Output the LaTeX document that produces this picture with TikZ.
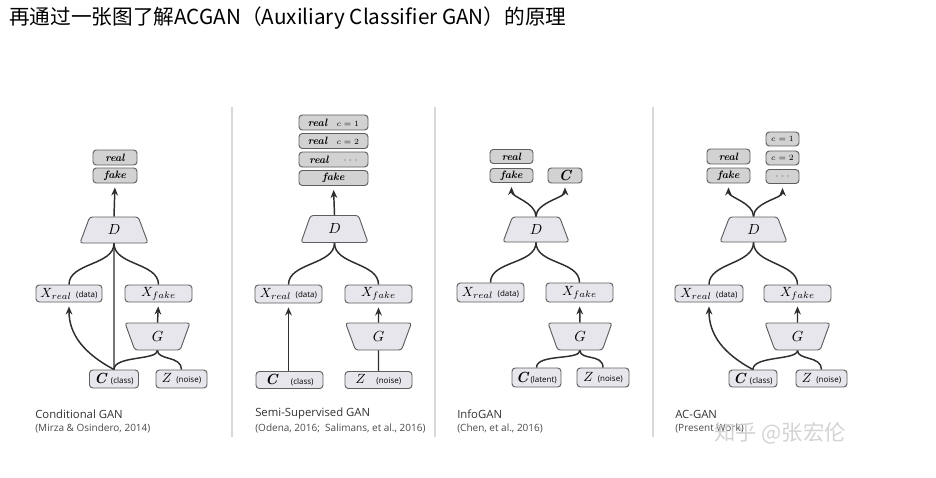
\documentclass[tikz,border=0pt]{standalone}
\usepackage{fontspec}
\usetikzlibrary{shapes.geometric,arrows.meta}
\setsansfont{Open Sans}
\newfontfamily\cjk{Noto Sans CJK SC}
\newcommand\dat[1]{{\sffamily\fontsize{6}{7}\selectfont #1}}
\newcommand\cbold{{\fontsize{11}{12}\selectfont\bfseries\itshape C}}
\newcommand\smc[1]{{\fontsize{6.5}{7}\selectfont$#1$}}
\newcommand\dotsy{{\color{dotc}\fontsize{9}{9}\selectfont$\cdots$}}
\definecolor{boxfill}{HTML}{D2D2D2}
\definecolor{boxline}{HTML}{5E5E5E}
\definecolor{netfill}{HTML}{E6E6EC}
\definecolor{linec}{HTML}{2E2E2E}
\definecolor{dotc}{HTML}{707070}
\begin{document}
\begin{tikzpicture}[x=0.75pt,y=-0.75pt,
  lab/.style 2 args={draw=boxline, fill=boxfill, rounded corners=2.5pt, line width=0.7pt, inner sep=0pt,
    minimum width=#1*0.75pt, minimum height=#2*0.75pt, font=\fontsize{8}{9}\selectfont\itshape\bfseries},
  xb/.style 2 args={draw=boxline, fill=netfill, rounded corners=2.5pt, line width=0.7pt, inner sep=0pt,
    minimum width=#1*0.75pt, minimum height=#2*0.75pt, font=\fontsize{10}{11}\selectfont},
  trap/.style 2 args={trapezium, trapezium angle=76, trapezium stretches=true, draw=boxline, fill=netfill,
    rounded corners=2pt, line width=0.7pt, inner sep=0pt,
    minimum width=#1*0.75pt, minimum height=#2*0.75pt, font=\fontsize{11}{12}\selectfont},
  gtrap/.style 2 args={trap={#1}{#2}, shape border rotate=180},
  con/.style={draw=linec, line width=1.1pt},
  arr/.style={con, -{Stealth[length=6pt,width=5pt]}, shorten >=3pt},
  captxt/.style={anchor=west, font=\sffamily\fontsize{8.5}{9}\selectfont, text=black!80, inner sep=0pt},
  subtxt/.style={anchor=west, font=\sffamily\fontsize{7.5}{8}\selectfont, text=black!70, inner sep=0pt},
  sepline/.style={draw=gray!30, line width=1.2pt}
]
\useasboundingbox (0,0) rectangle (936,478);
\fill[white] (0,0) rectangle (936,478);

% title
\node[anchor=west, inner sep=0pt, font=\cjk\fontsize{15.5}{17}\selectfont] (title) at (9,18)
  {再通过一张图了解ACGAN（Auxiliary Classifier GAN）的原理};

% separators
\coordinate (s1a) at (232,107); \coordinate (s1b) at (232,437);
\coordinate (s2a) at (435,107); \coordinate (s2b) at (435,437);
\coordinate (s3a) at (653,107); \coordinate (s3b) at (653,437);
\draw[sepline] (s1a) -- (s1b);
\draw[sepline] (s2a) -- (s2b);
\draw[sepline] (s3a) -- (s3b);

% ---------- Panel 1: Conditional GAN ----------
\node[lab={44}{15}] (aR) at (115,157.5) {real};
\node[lab={44}{15}] (aF) at (115,175.5) {fake};
\node[trap={68}{26}] (aD) at (114,230) {$D$};
\node[xb={66}{17}] (aXr) at (69,293.5) {$X_{real}$ \dat{(data)}};
\node[xb={67}{17}] (aXf) at (158.5,293.5) {$X_{fake}$};
\node[gtrap={65}{27}] (aG) at (157.5,336.5) {$G$};
\node[xb={49}{18}] (aC) at (114,379) {\cbold\ \dat{(class)}};
\node[xb={51}{18}] (aZ) at (181.5,379) {$Z$ \dat{(noise)}};
\draw[arr] (aD.north) -- (aF.south);
\draw[con] (aD.south) .. controls +(0,22) and +(0,-22) .. (aXr.north);
\draw[con] (aD.south) .. controls +(0,22) and +(0,-22) .. (aXf.north);
\draw[con] (aD.south) -- (aC.north);
\draw[arr] (aC.north) .. controls +(-30,-16) and +(0,32) .. (aXr.south);
\draw[con] (aC.north) .. controls +(0,-14) and +(0,10) .. (aG.south);
\draw[con] (aZ.north) .. controls +(0,-14) and +(0,10) .. (aG.south);
\draw[arr] (aG.north) -- (aXf.south);
\node[captxt] (aT) at (35,414) {Conditional GAN};
\node[subtxt] (aS) at (35,428) {(Mirza \& Osindero, 2014)};

% ---------- Panel 2: Semi-Supervised GAN ----------
\node[lab={69}{15}] (bR1) at (333.5,122.5) {real\hspace{7pt}\smc{c=1}};
\node[lab={69}{15}] (bR2) at (333.5,141) {real\hspace{7pt}\smc{c=2}};
\node[lab={69}{15}] (bR3) at (333.5,159.5) {real\hspace{11pt}\dotsy\hspace{5pt}};
\node[lab={69}{15}] (bF) at (333.5,178) {fake};
\node[trap={67}{27}] (bD) at (334.5,229) {$D$};
\node[xb={67}{18}] (bXr) at (288.5,294) {$X_{real}$ \dat{(data)}};
\node[xb={67}{18}] (bXf) at (378.5,294) {$X_{fake}$};
\node[gtrap={66}{27}] (bG) at (378.5,336.5) {$G$};
\node[xb={67}{17}] (bC) at (289.5,380) {\cbold\hspace{10pt}\dat{(class)}};
\node[xb={67}{17}] (bZ) at (378.5,380) {$Z$\hspace{8pt}\dat{(noise)}};
\draw[arr] (bD.north) -- (bF.south);
\draw[con] (bD.south) .. controls +(0,22) and +(0,-22) .. (bXr.north);
\draw[con] (bD.south) .. controls +(0,22) and +(0,-22) .. (bXf.north);
\draw[arr] (bC.north -| bXr.south) -- (bXr.south);
\draw[con] (bZ.north) -- (bG.south);
\draw[arr] (bG.north) -- (bXf.south);
\node[captxt] (bT) at (255,414) {Semi-Supervised GAN};
\node[subtxt] (bS) at (255,428) {(Odena, 2016;\ \ Salimans, et al., 2016)};

% ---------- Panel 3: InfoGAN ----------
\node[lab={43}{14}] (cR) at (511.5,156.5) {real};
\node[lab={43}{14}] (cF) at (511.5,175.5) {fake};
\node[lab={34}{15}] (cO) at (565,175.5) {\cbold};
\node[trap={66}{25}] (cD) at (536,229.5) {$D$};
\node[xb={67}{19}] (cXr) at (490.5,292.5) {$X_{real}$ \dat{(data)}};
\node[xb={67}{19}] (cXf) at (579.5,292.5) {$X_{fake}$};
\node[gtrap={64}{27}] (cG) at (580,336.5) {$G$};
\node[xb={49}{19}] (cC) at (536.5,377.5) {\cbold\,\dat{(latent)}};
\node[xb={52}{19}] (cZ) at (603,377.5) {$Z$ \dat{(noise)}};
\draw[arr] (cD.north) .. controls +(0,-14) and +(0,14) .. (cF.south);
\draw[arr] (cD.north) .. controls +(0,-14) and +(0,14) .. (cO.south);
\draw[con] (cD.south) .. controls +(0,22) and +(0,-22) .. (cXr.north);
\draw[con] (cD.south) .. controls +(0,22) and +(0,-22) .. (cXf.north);
\draw[con] (cC.north) .. controls +(0,-14) and +(0,10) .. (cG.south);
\draw[con] (cZ.north) .. controls +(0,-14) and +(0,10) .. (cG.south);
\draw[arr] (cG.north) -- (cXf.south);
\node[captxt] (cT) at (457,414) {InfoGAN};
\node[subtxt] (cS) at (457,428) {(Chen, et al., 2016)};

% ---------- Panel 4: AC-GAN ----------
\node[lab={43}{15}] (dR) at (728.5,156.5) {real};
\node[lab={43}{15}] (dF) at (728.5,175.5) {fake};
\node[lab={33}{14}] (dC1) at (782.5,139) {\smc{c=1}};
\node[lab={33}{14}] (dC2) at (782.5,158) {\smc{c=2}};
\node[lab={33}{14}] (dC3) at (782.5,176.5) {\dotsy};
\node[trap={67}{25}] (dD) at (753.5,229.5) {$D$};
\node[xb={68}{17}] (dXr) at (709,293.5) {$X_{real}$ \dat{(data)}};
\node[xb={67}{17}] (dXf) at (797.5,293.5) {$X_{fake}$};
\node[gtrap={65}{27}] (dG) at (797.5,336.5) {$G$};
\node[xb={48}{17}] (dC) at (753,378.5) {\cbold\ \dat{(class)}};
\node[xb={51}{17}] (dZ) at (821.5,378.5) {$Z$ \dat{(noise)}};
\draw[arr] (dD.north) .. controls +(0,-14) and +(0,14) .. (dF.south);
\draw[arr] (dD.north) .. controls +(0,-14) and +(0,14) .. (dC3.south);
\draw[con] (dD.south) .. controls +(0,22) and +(0,-22) .. (dXr.north);
\draw[con] (dD.south) .. controls +(0,22) and +(0,-22) .. (dXf.north);
\draw[arr] (dC.north) .. controls +(-30,-16) and +(0,32) .. (dXr.south);
\draw[con] (dC.north) .. controls +(0,-14) and +(0,10) .. (dG.south);
\draw[con] (dZ.north) .. controls +(0,-14) and +(0,10) .. (dG.south);
\draw[arr] (dG.north) -- (dXf.south);
\node[captxt] (dT) at (675,414) {AC-GAN};
\node[subtxt] (dS) at (675,428) {(Present Work)};

% watermark (drawn over the caption, as in the reference)
\node[anchor=west, inner sep=0pt, font=\cjk\fontsize{16}{18}\selectfont, text=gray!40, opacity=0.85] (wm) at (714,433) {知乎 @张宏伦};
\end{tikzpicture}
\end{document}
